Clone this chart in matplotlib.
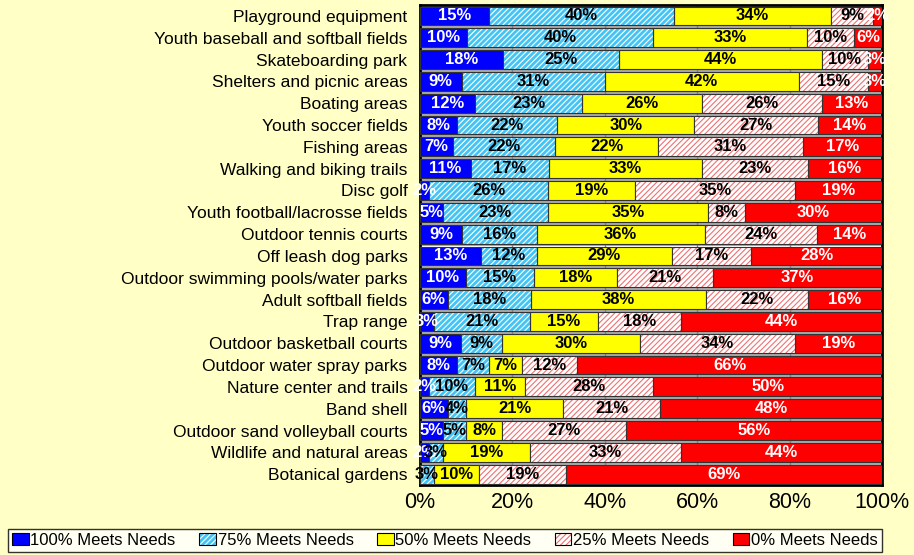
import matplotlib.pyplot as plt
from matplotlib.patches import Patch
import numpy as np

plt.rcParams['font.family'] = ['Liberation Sans', 'DejaVu Sans']
plt.rcParams['hatch.linewidth'] = 0.8

categories = ['Playground equipment', 'Youth baseball and softball fields', 'Skateboarding park',
              'Shelters and picnic areas', 'Boating areas', 'Youth soccer fields', 'Fishing areas',
              'Walking and biking trails', 'Disc golf', 'Youth football/lacrosse fields',
              'Outdoor tennis courts', 'Off leash dog parks', 'Outdoor swimming pools/water parks',
              'Adult softball fields', 'Trap range', 'Outdoor basketball courts',
              'Outdoor water spray parks', 'Nature center and trails', 'Band shell',
              'Outdoor sand volleyball courts', 'Wildlife and natural areas', 'Botanical gardens']

meets_100 = [15, 10, 18, 9, 12, 8, 7, 11, 2, 5, 9, 13, 10, 6, 3, 9, 8, 2, 6, 5, 2, 0]
meets_75 = [40, 40, 25, 31, 23, 22, 22, 17, 26, 23, 16, 12, 15, 18, 21, 9, 7, 10, 4, 5, 3, 3]
meets_50 = [34, 33, 44, 42, 26, 30, 22, 33, 19, 35, 36, 29, 18, 38, 15, 30, 7, 11, 21, 8, 19, 10]
meets_25 = [9, 10, 10, 15, 26, 27, 31, 23, 35, 8, 24, 17, 21, 22, 18, 34, 12, 28, 21, 27, 33, 19]
meets_0 = [2, 6, 3, 3, 13, 14, 17, 16, 19, 30, 14, 28, 37, 16, 44, 19, 66, 50, 48, 56, 44, 69]

series_names = ['100% Meets Needs', '75% Meets Needs', '50% Meets Needs',
                '25% Meets Needs', '0% Meets Needs']

# face colour, hatch colour (None = solid), label colour
styles = [('#0000FF', None, 'white'),
          ('#44C4F4', 'white', 'black'),
          ('#FFFF00', None, 'black'),
          ('white', '#F07070', 'black'),
          ('#FF0000', None, 'white')]

all_vals = np.array([meets_100, meets_75, meets_50, meets_25, meets_0], dtype=float)
# rounded labels don't always add to 100, stretch each bar to the full width
widths = all_vals / all_vals.sum(axis=0) * 100

fig = plt.figure(figsize=(9.14, 5.55), dpi=100, facecolor='#FFFFC6')
ax = fig.add_axes([0.4595, 0.126, 0.5055, 0.865])
ax.set_facecolor('white')

y = np.arange(len(categories))
left = np.zeros(len(categories))
handles = []
for vals, w, (face, hcol, tcol) in zip(all_vals, widths, styles):
    if hcol is None:
        ax.barh(y, w, left=left, height=0.86, color=face, edgecolor='#333333',
                linewidth=0.8, zorder=3)
        h = Patch(facecolor=face, edgecolor='black', linewidth=0.8)
    else:
        ax.barh(y, w, left=left, height=0.86, color=face, hatch='//////',
                edgecolor=hcol, linewidth=0, zorder=3)
        ax.barh(y, w, left=left, height=0.86, fill=False, edgecolor='#333333',
                linewidth=0.8, zorder=4)
        h = (Patch(facecolor=face, hatch='//////', edgecolor=hcol, linewidth=0),
             Patch(fill=False, edgecolor='black', linewidth=0.8))
    handles.append(h)
    for yi, l, v, wi in zip(y, left, vals, w):
        if v > 0:
            ax.text(l + wi / 2, yi, f'{int(v)}%', ha='center', va='center', color=tcol,
                    fontsize=12, fontweight='bold', zorder=5)
    left += w

for yi in y[:-1]:
    ax.axhline(yi + 0.52, color='#9A9A9A', linewidth=1.2, zorder=1)
ax.set_xlim(0, 100)
ax.set_ylim(len(categories) - 0.5, -0.5)
ax.set_xticks([0, 20, 40, 60, 80, 100])
ax.set_xticklabels(['0%', '20%', '40%', '60%', '80%', '100%'], fontsize=15.5)
ax.xaxis.grid(True, color='#808080', linewidth=1, zorder=0)
ax.set_yticks(y)
ax.set_yticklabels(categories, fontsize=12.5)
ax.tick_params(axis='both', length=0)
ax.tick_params(axis='x', pad=5)
ax.tick_params(axis='y', pad=9)
for s in ax.spines.values():
    s.set_linewidth(2)
    s.set_color('black')

leg = fig.legend(handles, series_names, loc='lower left',
                 bbox_to_anchor=(8 / 914, 3 / 555, 874 / 914, 25 / 555), mode='expand',
                 ncol=5, fontsize=12, frameon=True, fancybox=False, edgecolor='black',
                 handlelength=1.0, handleheight=0.7, handletextpad=0.1,
                 columnspacing=0.6, borderpad=0.25, borderaxespad=0)
leg.get_frame().set_linewidth(1)

fig.savefig('out.png', dpi=100, facecolor=fig.get_facecolor())
